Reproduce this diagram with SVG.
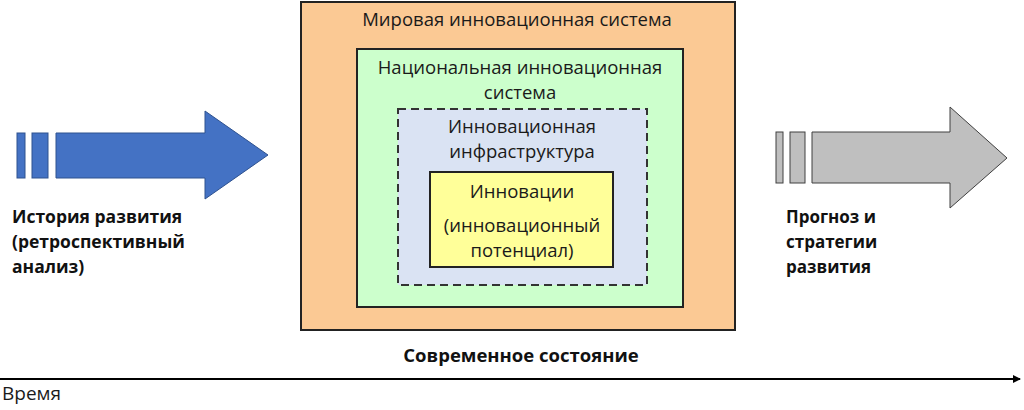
<svg xmlns="http://www.w3.org/2000/svg" width="1024" height="410" viewBox="0 0 1024 410">
<defs>
<style>
.t{font-family:"Open Sans","Noto Sans","Liberation Sans",sans-serif;font-size:18.5px;fill:#1a1a1a;text-anchor:middle}
.b{font-family:"Open Sans","Noto Sans","Liberation Sans",sans-serif;font-size:17.5px;font-weight:bold;fill:#111}
.box{stroke:#222;stroke-width:2}
</style>
<marker id="ah" markerWidth="8" markerHeight="8" refX="7" refY="4" orient="auto" markerUnits="userSpaceOnUse">
<path d="M0,0 L8,4 L0,8 z" fill="#000"/>
</marker>
</defs>
<rect width="1024" height="410" fill="#fff"/>
<g id="world">
<rect class="box" x="301" y="2" width="434" height="328" fill="#FBC994"/>
<text class="t" x="517" y="26">Мировая инновационная система</text>
</g>
<g id="national">
<rect class="box" x="357" y="49" width="326" height="258" fill="#CCFFCC"/>
<text class="t" x="520" y="74">Национальная инновационная</text>
<text class="t" x="520" y="99">система</text>
</g>
<g id="infra">
<rect x="398" y="109" width="249" height="176" fill="#DAE3F3" stroke="#333" stroke-width="2" stroke-dasharray="8,5"/>
<text class="t" x="522" y="133">Инновационная</text>
<text class="t" x="522" y="158">инфраструктура</text>
</g>
<g id="innov">
<rect class="box" x="430" y="172" width="183" height="95" fill="#FFFF99"/>
<text class="t" x="522" y="198">Инновации</text>
<text class="t" x="522" y="232">(инновационный</text>
<text class="t" x="522" y="257">потенциал)</text>
</g>
<g id="history">
<rect x="17" y="133" width="8" height="45" fill="#4472C4" stroke="#2F528F" stroke-width="1"/>
<rect x="32" y="133" width="16" height="45" fill="#4472C4" stroke="#2F528F" stroke-width="1"/>
<path d="M56,133 H205 V111 L268,155 L205,199 V178 H56 Z" fill="#4472C4" stroke="#2F528F" stroke-width="1"/>
<text class="b" x="12" y="223">История развития</text>
<text class="b" x="12" y="248">(ретроспективный</text>
<text class="b" x="12" y="273">анализ)</text>
</g>
<g id="forecast">
<rect x="776" y="132" width="7" height="51" fill="#BFBFBF" stroke="#404040" stroke-width="1"/>
<rect x="790" y="132" width="15" height="51" fill="#BFBFBF" stroke="#404040" stroke-width="1"/>
<path d="M812,132 H950 V107 L1007,158 L950,208 V183 H812 Z" fill="#BFBFBF" stroke="#404040" stroke-width="1"/>
<text class="b" x="786" y="223" style="font-size:17px">Прогноз и</text>
<text class="b" x="786" y="248" style="font-size:17px">стратегии</text>
<text class="b" x="786" y="273" style="font-size:17px">развития</text>
</g>
<g id="present">
<text class="b" x="521" y="362" style="text-anchor:middle;font-size:18.5px">Современное состояние</text>
</g>
<g id="connectors">
<line x1="0" y1="379" x2="1020" y2="379" stroke="#000" stroke-width="2" marker-end="url(#ah)"/>
</g>
<g id="time">
<text class="t" x="2" y="400" style="text-anchor:start;font-size:19px">Время</text>
</g>
</svg>
